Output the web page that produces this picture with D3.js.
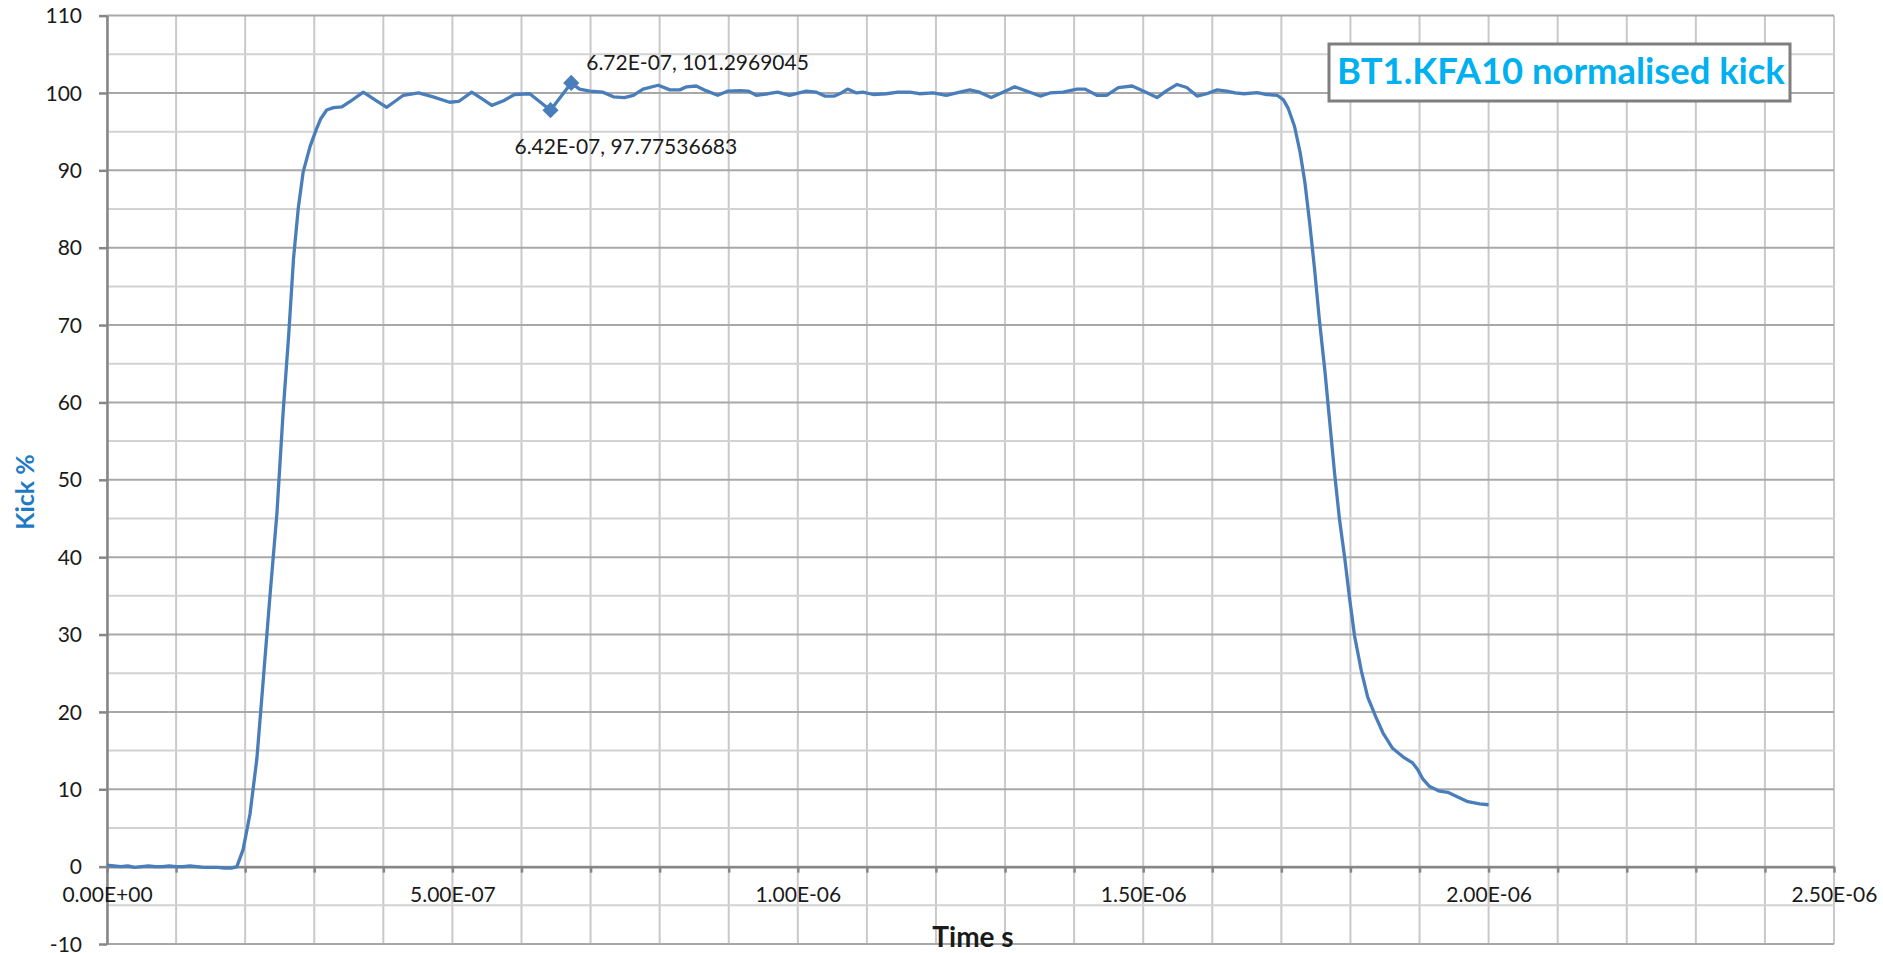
<!DOCTYPE html>
<html>
<head>
<meta charset="utf-8">
<script src="https://cdn.jsdelivr.net/npm/d3@7"></script>
<style>
  html, body { margin: 0; padding: 0; background: #fff; }
  svg { display: block; font-family: Lato, "Open Sans", sans-serif; }
</style>
</head>
<body>
<div id="chart"></div>
<script>
// pulse measurement, time in ns, kick in %
const timeNs = [0, 10, 20, 30, 40, 50, 60, 70, 80, 90, 100, 110, 120, 130, 140, 150, 160, 170, 180,
  188, 197, 207, 217, 226, 236, 246, 255, 263, 270, 277, 284, 294, 303, 309, 318, 328, 340, 352,
  371, 388, 405, 429, 451, 472, 496, 509, 528, 542, 557, 574, 590, 612, 642, 672, 684, 699, 718,
  733, 749, 762, 776, 798, 815, 829, 839, 853, 867, 884, 899, 916, 928, 940, 957, 971, 988, 1012,
  1027, 1039, 1053, 1063, 1072, 1085, 1094, 1109, 1128, 1145, 1162, 1176, 1196, 1215, 1230, 1249,
  1263, 1280, 1297, 1314, 1331, 1351, 1365, 1384, 1404, 1416, 1433, 1447, 1464, 1484, 1500, 1520,
  1534, 1549, 1563, 1578, 1592, 1607, 1621, 1633, 1646, 1665, 1679, 1694, 1703, 1710, 1719, 1727,
  1734, 1741, 1748, 1755, 1763, 1770, 1777, 1784, 1792, 1799, 1806, 1816, 1825, 1837, 1847, 1861,
  1876, 1890, 1897, 1905, 1914, 1929, 1941, 1953, 1970, 1987, 2000];
const kickPct = [0.2, 0.1, 0.0, 0.1, -0.1, 0.0, 0.1, 0.0, 0.0, 0.1, 0.0, 0.0, 0.1, 0.0, -0.1, -0.1, -0.1, -0.2, -0.2,
  0.0, 2.2, 6.8, 14.0, 23.9, 35.1, 45.7, 58.8, 68.7, 78.6, 85.2, 89.8, 93.1, 95.3, 96.6, 97.8, 98.1, 98.2, 98.9,
  100.1, 99.1, 98.15, 99.7, 100.0, 99.5, 98.8, 98.9, 100.1, 99.3, 98.4, 99.0, 99.8, 99.9, 97.77536683, 101.2969045, 100.5, 100.25, 100.1,
  99.5, 99.4, 99.7, 100.5, 101.0, 100.4, 100.4, 100.8, 100.9, 100.3, 99.7, 100.25, 100.3, 100.25, 99.7, 99.9, 100.1, 99.7, 100.25,
  100.1, 99.6, 99.6, 100.0, 100.5, 100.0, 100.1, 99.8, 99.9, 100.1, 100.1, 99.9, 100.0, 99.7, 100.0, 100.4,
  100.1, 99.4, 100.1, 100.8, 100.25, 99.6, 100.0, 100.1, 100.5, 100.5, 99.7, 99.7, 100.7, 100.9, 100.25, 99.4,
  100.3, 101.1, 100.7, 99.6, 99.9, 100.4, 100.25, 100.0, 99.9, 100.05, 99.8, 99.7, 99.1, 98.0, 95.7, 92.4,
  88.5, 83.2, 77.3, 70.7, 64.1, 57.5, 50.9, 45.0, 39.7, 34.5, 29.8, 25.2, 21.9, 19.3, 17.3, 15.3,
  14.2, 13.4, 12.6, 11.3, 10.4, 9.75, 9.6, 9.1, 8.4, 8.1, 8.0];

// the two labelled points
const markerTime = [6.42e-7, 6.72e-7];
const markerKick = [97.77536683, 101.2969045];

const xTicks = d3.range(0, 26).map(i => i * 1e-7);
const yMajor = d3.range(-10, 111, 10);
const yMinor = d3.range(-5, 110, 10);

const chartTitle = "BT1.KFA10 normalised kick";
const xTitle = "Time s";
const yTitle = "Kick %";

// Excel style 0.00E+00
function sci(v) {
  const parts = v.toExponential(2).split("e");
  const e = +parts[1];
  return parts[0] + "E" + (e < 0 ? "-" : "+") + String(Math.abs(e)).padStart(2, "0");
}

const width = 1883, height = 953;
const plot = { left: 107, right: 1834, top: 15.6, bottom: 944 };

const svg = d3.select("#chart").append("svg")
  .attr("width", width)
  .attr("height", height);

const x = d3.scaleLinear().domain([0, 2.5e-6]).range([plot.left, plot.right]);
const y = d3.scaleLinear().domain([-10, 110]).range([plot.bottom, plot.top]);

// gridlines
const grid = svg.append("g");
grid.selectAll("line.vgrid").data(xTicks).join("line")
  .attr("class", "vgrid")
  .attr("x1", d => x(d)).attr("x2", d => x(d))
  .attr("y1", plot.top).attr("y2", plot.bottom)
  .attr("stroke", "#c9c9c9").attr("stroke-width", 2);
grid.selectAll("line.minor").data(yMinor).join("line")
  .attr("class", "minor")
  .attr("x1", plot.left).attr("x2", plot.right)
  .attr("y1", d => y(d)).attr("y2", d => y(d))
  .attr("stroke", "#d2d2d2").attr("stroke-width", 2);
grid.selectAll("line.major").data(yMajor).join("line")
  .attr("class", "major")
  .attr("x1", plot.left).attr("x2", plot.right)
  .attr("y1", d => y(d)).attr("y2", d => y(d))
  .attr("stroke", "#a8a8a8").attr("stroke-width", 2);

// y axis
const yAxis = svg.append("g")
  .attr("transform", `translate(${plot.left},0)`)
  .call(d3.axisLeft(y).tickValues(yMajor).tickSize(8).tickSizeOuter(0).tickPadding(17)
    .tickFormat(d => String(d)));

// x axis sits on zero
const xAxis = svg.append("g")
  .attr("transform", `translate(0,${y(0)})`)
  .call(d3.axisBottom(x).tickValues(xTicks).tickSize(6).tickSizeOuter(0).tickPadding(14)
    .tickFormat((d, i) => i % 5 === 0 ? sci(d) : ""));

[yAxis, xAxis].forEach(a => {
  a.select(".domain").attr("stroke", "#868686").attr("stroke-width", 2.5);
  a.selectAll(".tick line").attr("stroke", "#868686").attr("stroke-width", 2.5);
  a.selectAll(".tick text").attr("fill", "#1a1a1a")
    .style("font-family", "Lato, sans-serif").style("font-size", "21px");
});
yAxis.selectAll(".tick text").attr("dy", "0.34em");

// series
const line = d3.line()
  .x((d, i) => x(timeNs[i] * 1e-9))
  .y(d => y(d));

svg.append("path")
  .datum(kickPct)
  .attr("fill", "none")
  .attr("stroke", "#4a7ebb")
  .attr("stroke-width", 3.3)
  .attr("stroke-linejoin", "round")
  .attr("d", line);

// markers + data labels
svg.selectAll("path.marker").data(markerTime).join("path")
  .attr("class", "marker")
  .attr("d", d3.symbol(d3.symbolSquare, 130))
  .attr("transform", (d, i) => `translate(${x(d)},${y(markerKick[i])}) rotate(45)`)
  .attr("fill", "#4a7ebb");

const labelOffset = [[-36, 44], [15, -13]];
svg.selectAll("text.dlabel").data(markerTime).join("text")
  .attr("class", "dlabel")
  .attr("x", (d, i) => x(d) + labelOffset[i][0])
  .attr("y", (d, i) => y(markerKick[i]) + labelOffset[i][1])
  .attr("fill", "#1a1a1a")
  .style("font-size", "21px")
  .text((d, i) => `${sci(d)}, ${markerKick[i]}`);

// axis titles
svg.append("text")
  .attr("transform", "translate(34,492) rotate(-90)")
  .attr("text-anchor", "middle")
  .attr("fill", "#1f7ac6")
  .style("font-size", "25px").style("font-weight", "bold")
  .text(yTitle);

svg.append("text")
  .attr("x", 973).attr("y", 947)
  .attr("text-anchor", "middle")
  .attr("fill", "#1a1a1a")
  .style("font-size", "28px").style("font-weight", "bold")
  .text(xTitle);

// chart title in a box
svg.append("rect")
  .attr("x", 1329).attr("y", 44).attr("width", 461).attr("height", 57)
  .attr("fill", "#fff").attr("stroke", "#7f7f7f").attr("stroke-width", 3);

const title = svg.append("text")
  .attr("x", 1337).attr("y", 84)
  .attr("fill", "#00b0f0")
  .style("font-size", "36px").style("font-weight", "bold")
  .text(chartTitle);
// squeeze the title to the box width
const tw = title.node().getComputedTextLength();
title.style("font-size", (36 * 448 / tw).toFixed(1) + "px");
</script>
</body>
</html>
